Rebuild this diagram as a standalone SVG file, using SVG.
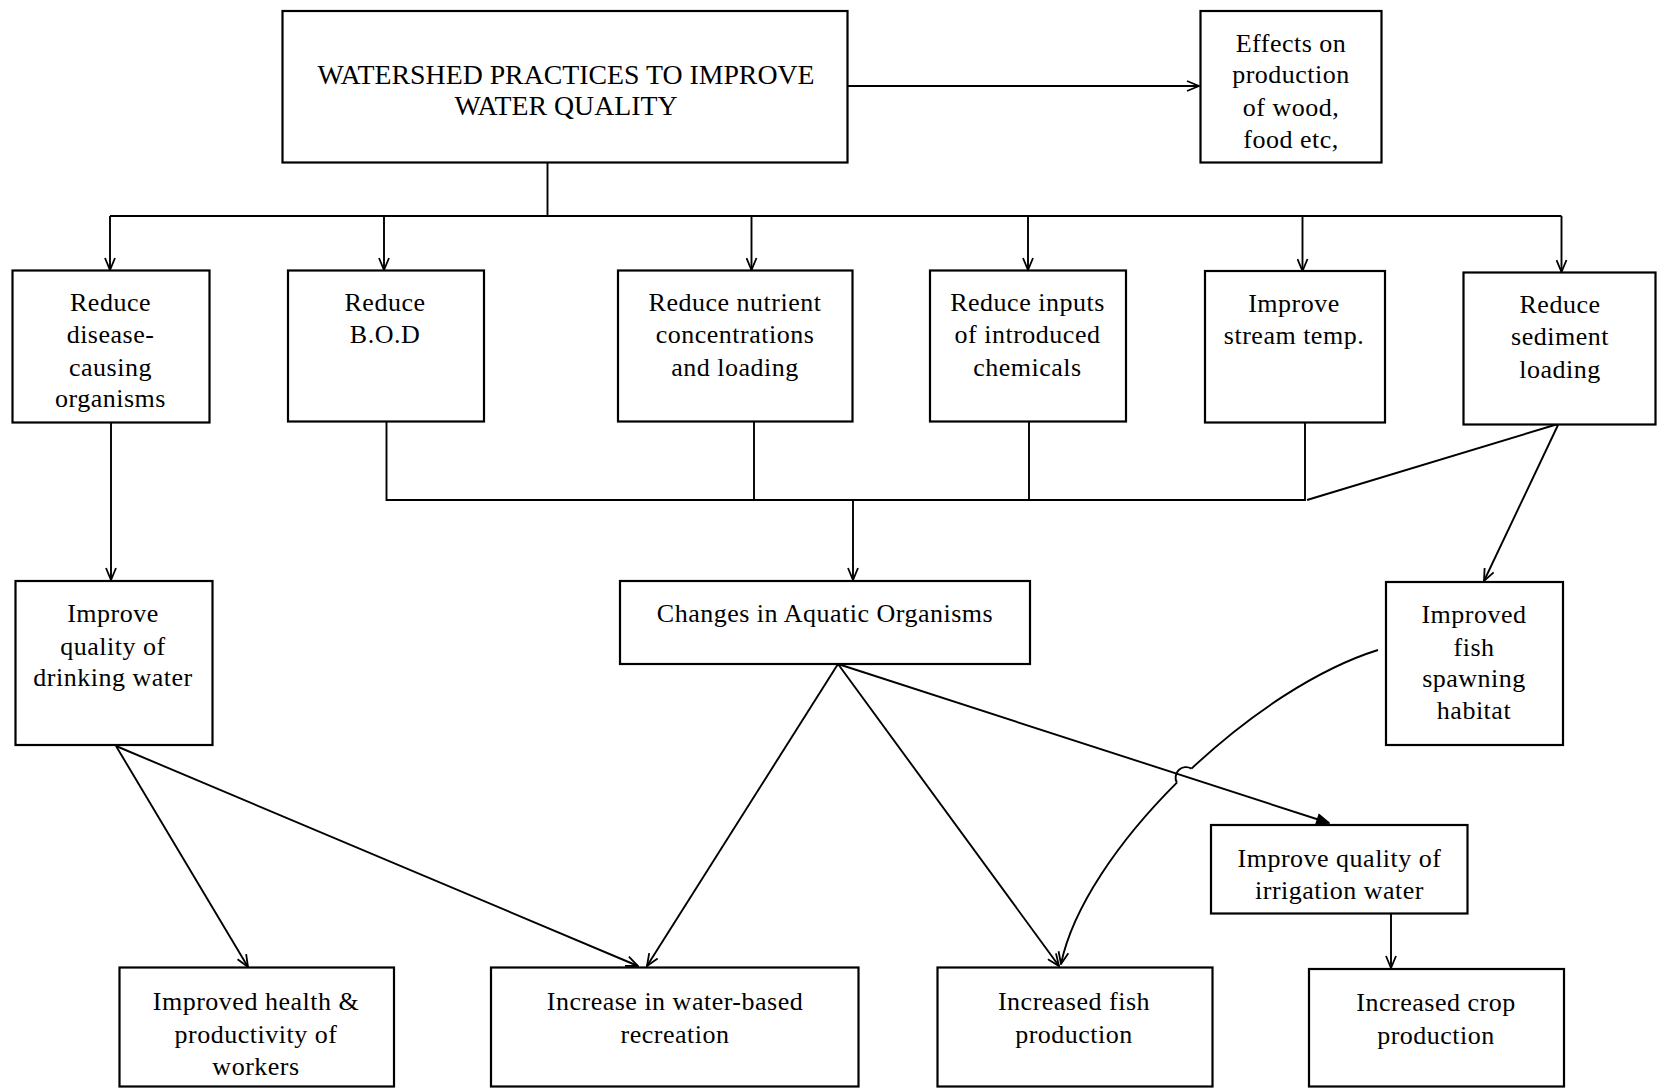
<svg xmlns="http://www.w3.org/2000/svg" width="1657" height="1088" viewBox="0 0 1657 1088">
  <style>
    .box { fill: #fff; stroke: #000; stroke-width: 2.2; }
    .lbl { font-family: "Liberation Serif", "Times New Roman", serif; font-size: 26px; letter-spacing: 0.5px; fill: #000; text-anchor: middle; }
    .ttl { font-family: "Liberation Serif", "Times New Roman", serif; font-size: 27.8px; fill: #000; text-anchor: middle; }
    .ln { fill: none; stroke: #000; stroke-width: 1.9; }
    .ar { marker-end: url(#arr); }
    .arf { marker-end: url(#arrf); }
  </style>
  <defs>
    <marker id="arr" viewBox="0 0 14 12" refX="13" refY="6" markerWidth="14" markerHeight="12" markerUnits="userSpaceOnUse" orient="auto">
      <path d="M1,1 L13,6 L1,11" fill="none" stroke="#000" stroke-width="1.8"/>
    </marker>
    <marker id="arrf" viewBox="0 0 14 12" refX="13" refY="6" markerWidth="14" markerHeight="12" markerUnits="userSpaceOnUse" orient="auto">
      <path d="M1,1 L13,6 L1,11 Z" fill="#000" stroke="#000" stroke-width="1.5"/>
    </marker>
  </defs>
  <rect width="1657" height="1088" fill="#fff"/>

  <g id="connectors">
    <!-- top box to side effects box -->
    <path class="ln ar" d="M847,86 L1199,86"/>
    <!-- upper distribution bus -->
    <path class="ln" d="M547.5,162 V216"/>
    <path class="ln" d="M110,216 H1561.5"/>
    <path class="ln ar" d="M110,216 V270"/>
    <path class="ln ar" d="M384,216 V270"/>
    <path class="ln ar" d="M751.5,216 V270"/>
    <path class="ln ar" d="M1028,216 V270"/>
    <path class="ln ar" d="M1302.5,216 V271"/>
    <path class="ln ar" d="M1561.5,216 V272"/>
    <!-- disease organisms to drinking water -->
    <path class="ln ar" d="M111,423 V580"/>
    <!-- collecting bus into aquatic organisms -->
    <path class="ln" d="M386.5,421 V500 H1305 V423"/>
    <path class="ln" d="M754,421 V500"/>
    <path class="ln" d="M1029,422 V500"/>
    <path class="ln" d="M1307,500 L1558,424"/>
    <path class="ln ar" d="M853,500 V580"/>
    <!-- sediment to spawning habitat -->
    <path class="ln ar" d="M1558,425 L1484,581"/>
    <!-- drinking water outcomes -->
    <path class="ln ar" d="M116,746 L248,967"/>
    <path class="ln ar" d="M116,746 L638,966"/>
    <!-- aquatic organisms outcomes -->
    <path class="ln ar" d="M838,664 L647,966"/>
    <path class="ln ar" d="M838,664 L1059,966"/>
    <path class="ln arf" d="M838,664 L1329,823"/>
    <!-- spawning habitat to fish production, hopping over the crossing line -->
    <path class="ln" d="M1378,650 C1317.8,668.8 1249.5,714.1 1191.5,768.6"/>
    <path class="ln" d="M1191.5,768.6 A10.5,10.5 0 0 0 1176.9,782.7"/>
    <path class="ln ar" d="M1176.9,782.7 C1118.4,841 1072.8,907.6 1061,964"/>
    <!-- irrigation to crops -->
    <path class="ln ar" d="M1391,913 V968"/>
  </g>

  <g id="watershed-practices">
    <rect class="box" x="282.5" y="11" width="565" height="151.5"/>
    <text class="ttl" x="566" y="84">WATERSHED PRACTICES TO IMPROVE</text>
    <text class="ttl" x="566" y="115">WATER QUALITY</text>
  </g>
  <g id="effects-production">
    <rect class="box" x="1200.5" y="11" width="181" height="151.5"/>
    <text class="lbl" x="1291" y="52">Effects on</text>
    <text class="lbl" x="1291" y="83">production</text>
    <text class="lbl" x="1291" y="116">of wood,</text>
    <text class="lbl" x="1291" y="148">food etc,</text>
  </g>

  <g id="reduce-disease">
    <rect class="box" x="12.5" y="270.5" width="197" height="152"/>
    <text class="lbl" x="110.5" y="311">Reduce</text>
    <text class="lbl" x="110.5" y="343">disease-</text>
    <text class="lbl" x="110.5" y="376">causing</text>
    <text class="lbl" x="110.5" y="407">organisms</text>
  </g>
  <g id="reduce-bod">
    <rect class="box" x="288" y="270.5" width="196" height="151"/>
    <text class="lbl" x="385" y="311">Reduce</text>
    <text class="lbl" x="385" y="343">B.O.D</text>
  </g>
  <g id="reduce-nutrient">
    <rect class="box" x="618" y="270.5" width="234.5" height="151"/>
    <text class="lbl" x="735" y="311">Reduce nutrient</text>
    <text class="lbl" x="735" y="343">concentrations</text>
    <text class="lbl" x="735" y="376">and loading</text>
  </g>
  <g id="reduce-chemicals">
    <rect class="box" x="930" y="270.5" width="196" height="151"/>
    <text class="lbl" x="1027.5" y="311">Reduce inputs</text>
    <text class="lbl" x="1027.5" y="343">of introduced</text>
    <text class="lbl" x="1027.5" y="376">chemicals</text>
  </g>
  <g id="stream-temp">
    <rect class="box" x="1205" y="271" width="180" height="151.5"/>
    <text class="lbl" x="1294" y="312">Improve</text>
    <text class="lbl" x="1294" y="344">stream temp.</text>
  </g>
  <g id="reduce-sediment">
    <rect class="box" x="1463.5" y="272.5" width="192" height="152"/>
    <text class="lbl" x="1560" y="313">Reduce</text>
    <text class="lbl" x="1560" y="345">sediment</text>
    <text class="lbl" x="1560" y="378">loading</text>
  </g>

  <g id="drinking-water">
    <rect class="box" x="15.5" y="581" width="197" height="164"/>
    <text class="lbl" x="113" y="622">Improve</text>
    <text class="lbl" x="113" y="655">quality of</text>
    <text class="lbl" x="113" y="686">drinking water</text>
  </g>
  <g id="aquatic-organisms">
    <rect class="box" x="620" y="581" width="410" height="83"/>
    <text class="lbl" x="825" y="622">Changes in Aquatic Organisms</text>
  </g>
  <g id="spawning-habitat">
    <rect class="box" x="1386" y="582" width="177" height="163"/>
    <text class="lbl" x="1474" y="623">Improved</text>
    <text class="lbl" x="1474" y="656">fish</text>
    <text class="lbl" x="1474" y="687">spawning</text>
    <text class="lbl" x="1474" y="719">habitat</text>
  </g>
  <g id="irrigation-water">
    <rect class="box" x="1211" y="825" width="256.5" height="88.5"/>
    <text class="lbl" x="1339.5" y="867">Improve quality of</text>
    <text class="lbl" x="1339.5" y="899">irrigation water</text>
  </g>

  <g id="health-workers">
    <rect class="box" x="119.5" y="967.5" width="274.5" height="119"/>
    <text class="lbl" x="256" y="1010">Improved health &amp;</text>
    <text class="lbl" x="256" y="1043">productivity of</text>
    <text class="lbl" x="256" y="1075">workers</text>
  </g>
  <g id="water-recreation">
    <rect class="box" x="491" y="967.5" width="367.5" height="119"/>
    <text class="lbl" x="675" y="1010">Increase in water-based</text>
    <text class="lbl" x="675" y="1043">recreation</text>
  </g>
  <g id="fish-production">
    <rect class="box" x="937.5" y="967.5" width="275" height="119"/>
    <text class="lbl" x="1074" y="1010">Increased fish</text>
    <text class="lbl" x="1074" y="1043">production</text>
  </g>
  <g id="crop-production">
    <rect class="box" x="1309" y="969" width="255" height="117.5"/>
    <text class="lbl" x="1436" y="1011">Increased crop</text>
    <text class="lbl" x="1436" y="1044">production</text>
  </g>
</svg>
